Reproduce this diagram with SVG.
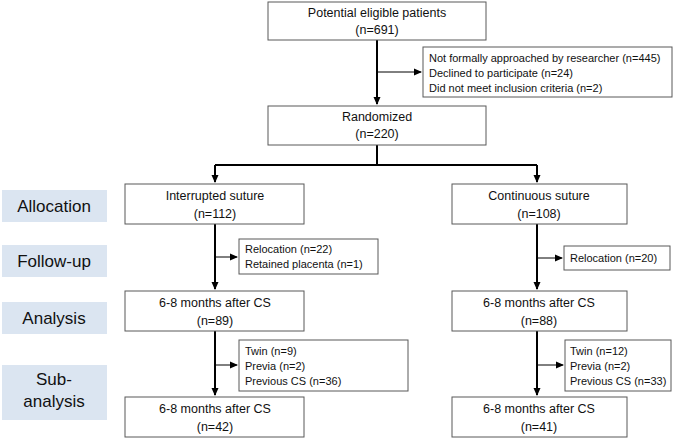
<svg xmlns="http://www.w3.org/2000/svg" width="685" height="440" viewBox="0 0 685 440">
<style>
.b{fill:#fff;stroke:#595959;stroke-width:1}
.s{fill:#dbe5f1;stroke:none}
text{font-family:"Liberation Sans",Arial,sans-serif;font-size:12.5px;fill:#111}
.c{text-anchor:middle}
.l{font-size:17px}
.n{font-size:11px}
.m{stroke:#000;stroke-width:2;fill:none}
.t{stroke:#000;stroke-width:1;fill:none}
</style>
<defs><marker id="a" markerWidth="8" markerHeight="8" refX="7" refY="4" orient="auto" markerUnits="userSpaceOnUse"><path d="M0,0.5 L8,4 L0,7.5z" fill="#000"/></marker></defs>
<g id="connectors">
<path class="m" d="M377,40 V104" marker-end="url(#a)"/>
<path class="t" d="M377,72 H421" marker-end="url(#a)"/>
<path class="m" d="M377,145 V165 M215,165 H537"/>
<path class="m" d="M215,165 V182" marker-end="url(#a)"/>
<path class="m" d="M537,165 V182" marker-end="url(#a)"/>
<path class="m" d="M215,224 V289" marker-end="url(#a)"/>
<path class="t" d="M215,257 H237" marker-end="url(#a)"/>
<path class="m" d="M537,224 V289" marker-end="url(#a)"/>
<path class="t" d="M537,258 H562" marker-end="url(#a)"/>
<path class="m" d="M215,331 V395" marker-end="url(#a)"/>
<path class="t" d="M215,365 H237" marker-end="url(#a)"/>
<path class="m" d="M537,331 V395" marker-end="url(#a)"/>
<path class="t" d="M537,365 H563" marker-end="url(#a)"/>
</g>
<g id="potential"><rect class="b" x="268" y="2" width="218" height="38"/><text class="c" x="377" y="17">Potential eligible patients</text><text class="c" x="377" y="34">(n=691)</text></g>
<g id="excl1"><rect class="b" x="423" y="47" width="249" height="50"/><text class="n" x="429" y="62">Not formally approached by researcher (n=445)</text><text class="n" x="429" y="77">Declined to participate (n=24)</text><text class="n" x="429" y="92">Did not meet inclusion criteria (n=2)</text></g>
<g id="randomized"><rect class="b" x="268" y="106" width="218" height="39"/><text class="c" x="377" y="121">Randomized</text><text class="c" x="377" y="138">(n=220)</text></g>
<g id="lab-alloc"><rect class="s" x="2" y="190" width="105" height="32"/><text class="c l" x="54" y="212">Allocation</text></g>
<g id="lab-follow"><rect class="s" x="2" y="245" width="105" height="32"/><text class="c l" x="54" y="267">Follow-up</text></g>
<g id="lab-analysis"><rect class="s" x="2" y="302" width="105" height="32"/><text class="c l" x="54" y="324">Analysis</text></g>
<g id="lab-sub"><rect class="s" x="2" y="365" width="105" height="55"/><text class="c l" x="54" y="385">Sub-</text><text class="c l" x="54" y="407">analysis</text></g>
<g id="interrupted"><rect class="b" x="125" y="184" width="179" height="40"/><text class="c" x="215" y="200">Interrupted suture</text><text class="c" x="215" y="218">(n=112)</text></g>
<g id="continuous"><rect class="b" x="452" y="184" width="175" height="40"/><text class="c" x="539" y="200">Continuous suture</text><text class="c" x="539" y="218">(n=108)</text></g>
<g id="fu-left"><rect class="b" x="239" y="239" width="139" height="35"/><text class="n" x="245" y="253">Relocation (n=22)</text><text class="n" x="245" y="268">Retained placenta (n=1)</text></g>
<g id="fu-right"><rect class="b" x="564" y="246" width="106" height="24"/><text class="n" x="570" y="262">Relocation (n=20)</text></g>
<g id="an-left"><rect class="b" x="125" y="291" width="179" height="40"/><text class="c" x="215" y="307">6-8 months after CS</text><text class="c" x="215" y="325">(n=89)</text></g>
<g id="an-right"><rect class="b" x="452" y="291" width="175" height="40"/><text class="c" x="539" y="307">6-8 months after CS</text><text class="c" x="539" y="325">(n=88)</text></g>
<g id="ex-left"><rect class="b" x="239" y="340" width="169" height="51"/><text class="n" x="245" y="355">Twin (n=9)</text><text class="n" x="245" y="370">Previa (n=2)</text><text class="n" x="245" y="385">Previous CS (n=36)</text></g>
<g id="ex-right"><rect class="b" x="565" y="340" width="106" height="51"/><text class="n" x="570" y="355">Twin (n=12)</text><text class="n" x="570" y="370">Previa (n=2)</text><text class="n" x="570" y="385">Previous CS (n=33)</text></g>
<g id="sub-left"><rect class="b" x="125" y="397" width="179" height="40"/><text class="c" x="215" y="413">6-8 months after CS</text><text class="c" x="215" y="431">(n=42)</text></g>
<g id="sub-right"><rect class="b" x="452" y="397" width="175" height="40"/><text class="c" x="539" y="413">6-8 months after CS</text><text class="c" x="539" y="431">(n=41)</text></g>
</svg>
